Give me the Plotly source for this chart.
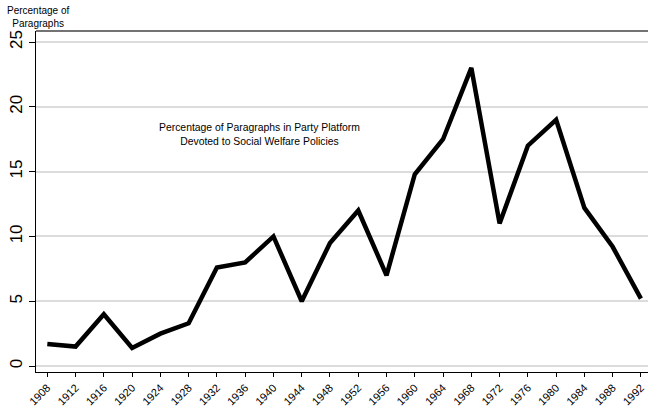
import plotly.graph_objects as go

# ==========================================================
# Data
# ==========================================================

years = [1908, 1912, 1916, 1920, 1924, 1928, 1932, 1936, 1940, 1944, 1948,
         1952, 1956, 1960, 1964, 1968, 1972, 1976, 1980, 1984, 1988, 1992]

pct_paragraphs = [1.7, 1.5, 4.0, 1.4, 2.5, 3.3, 7.6, 8.0, 10.0, 5.0, 9.5,
                  12.0, 7.0, 14.8, 17.5, 23.0, 11.0, 17.0, 19.0, 12.2, 9.2, 5.2]

y_ticks = [0, 5, 10, 15, 20, 25]

# ==========================================================
# Figure
# ==========================================================

fig = go.Figure(
    go.Scatter(
        x=years,
        y=pct_paragraphs,
        mode="lines",
        line=dict(color="black", width=4.5),
        cliponaxis=False,
        showlegend=False
    )
)

fig.update_xaxes(
    range=[1906.4, 1993.0],
    tickvals=years,
    ticktext=[str(y) for y in years],
    tickangle=-45,
    ticks="outside",
    ticklen=4,
    tickcolor="black",
    showline=True,
    linecolor="black",
    linewidth=1.2,
    showgrid=False,
    zeroline=False,
    automargin=False,
    tickfont=dict(size=11, color="black")
)

fig.update_yaxes(
    range=[-0.46, 25.85],
    tickvals=y_ticks,
    tickangle=-90,
    ticks="outside",
    ticklen=6,
    tickcolor="black",
    showline=True,
    linecolor="black",
    linewidth=1.2,
    showgrid=True,
    gridcolor="#dcdcdc",
    gridwidth=1.5,
    zeroline=False,
    automargin=False,
    tickfont=dict(size=17, color="black")
)

# top border
fig.add_shape(
    type="line", xref="paper", yref="paper",
    x0=0, x1=1, y0=1, y1=1,
    line=dict(color="#444444", width=1.5)
)

fig.add_annotation(
    text="Percentage of<br>Paragraphs",
    xref="paper", yref="paper",
    x=-0.05, y=1.0,
    xanchor="left", yanchor="bottom",
    yshift=0,
    showarrow=False,
    align="center",
    font=dict(size=10, color="black")
)

fig.add_annotation(
    text="Percentage of Paragraphs in Party Platform<br>Devoted to Social Welfare Policies",
    x=1938.0, y=17.9,
    xanchor="center", yanchor="middle",
    showarrow=False,
    align="center",
    font=dict(size=10.4, color="black")
)

fig.update_layout(
    width=648,
    height=408,
    template="plotly_white",
    paper_bgcolor="white",
    plot_bgcolor="white",
    font=dict(family="Liberation Sans, Arial, sans-serif", color="black"),
    margin=dict(l=36, r=0, t=31, b=36)
)

fig.write_html(
    "out.html",
    config={"displayModeBar": False},
    post_script="document.body.style.margin='0';document.body.style.overflow='hidden';"
)
